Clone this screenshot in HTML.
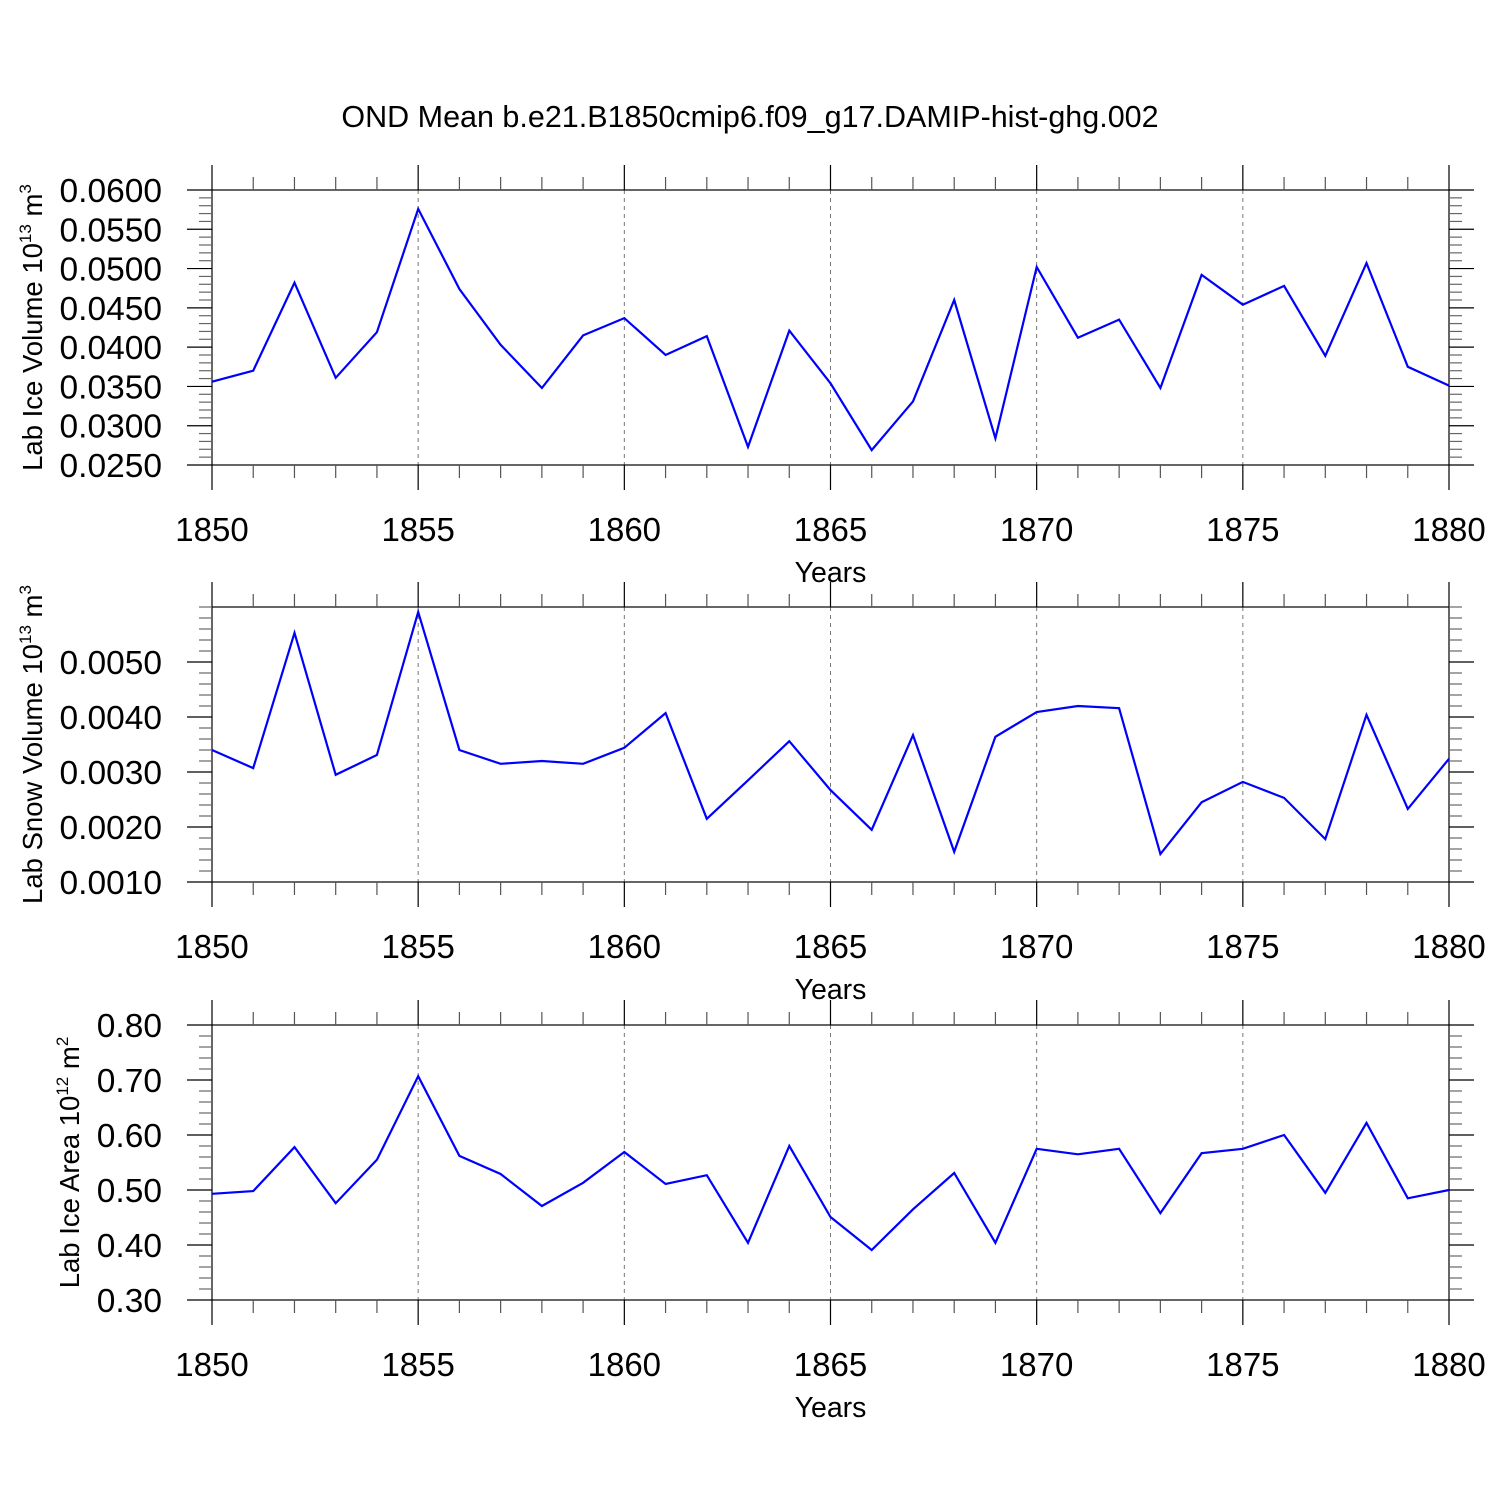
<!DOCTYPE html>
<html><head><meta charset="utf-8"><style>
html,body{margin:0;padding:0;background:#fff;}
svg{display:block;font-family:"Liberation Sans",sans-serif;}
</style></head><body>
<svg id="chart" width="1500" height="1500" viewBox="0 0 1500 1500">
<text x="750" y="127" text-anchor="middle" font-size="30.5">OND Mean b.e21.B1850cmip6.f09_g17.DAMIP-hist-ghg.002</text>
</svg>
<script>
const years = [1850,1851,1852,1853,1854,1855,1856,1857,1858,1859,1860,1861,1862,1863,1864,1865,1866,1867,1868,1869,1870,1871,1872,1873,1874,1875,1876,1877,1878,1879,1880];
const xTickLabels = [1850,1855,1860,1865,1870,1875,1880];
const iceVolume = [0.0356,0.0370,0.0482,0.0361,0.0419,0.0576,0.0474,0.0403,0.0348,0.0415,0.0437,0.0390,0.0414,0.0273,0.0421,0.0354,0.0269,0.0331,0.0460,0.0284,0.0502,0.0412,0.0435,0.0348,0.0492,0.0454,0.0478,0.0389,0.0507,0.0375,0.0351];
const snowVolume = [0.00340,0.00307,0.00553,0.00295,0.00331,0.00591,0.00340,0.00315,0.00320,0.00315,0.00344,0.00407,0.00215,0.00285,0.00356,0.00267,0.00195,0.00367,0.00155,0.00364,0.00409,0.00420,0.00416,0.00151,0.00245,0.00282,0.00253,0.00178,0.00404,0.00233,0.00324];
const iceArea = [0.493,0.498,0.578,0.476,0.555,0.707,0.562,0.529,0.471,0.513,0.569,0.511,0.527,0.404,0.580,0.451,0.391,0.465,0.531,0.404,0.575,0.565,0.575,0.458,0.567,0.575,0.600,0.495,0.622,0.485,0.500];
const iceVolTicks = ["0.0250","0.0300","0.0350","0.0400","0.0450","0.0500","0.0550","0.0600"];
const snowTicks = ["0.0010","0.0020","0.0030","0.0040","0.0050"];
const areaTicks = ["0.30","0.40","0.50","0.60","0.70","0.80"];

const NS="http://www.w3.org/2000/svg";
const svg=document.getElementById('chart');
function mk(tag,attrs,parent){const e=document.createElementNS(NS,tag);for(const k in attrs)e.setAttribute(k,attrs[k]);(parent||svg).appendChild(e);return e;}
const X0=212,X1=1449;
function xs(yr){return X0+(yr-1850)/30*(X1-X0);}

const panels=[
 {top:190,bot:465,min:0.025,max:0.060,minor:0.001,ticks:iceVolTicks,data:iceVolume,name:'ice-volume',title:'Lab Ice Volume 10',exp:'13',unit:' m',uexp:'3',tx:42},
 {top:607,bot:882,min:0.001,max:0.006,minor:0.0002,ticks:snowTicks,data:snowVolume,name:'snow-volume',title:'Lab Snow Volume 10',exp:'13',unit:' m',uexp:'3',tx:42},
 {top:1025,bot:1300,min:0.30,max:0.80,minor:0.02,ticks:areaTicks,data:iceArea,name:'ice-area',title:'Lab Ice Area 10',exp:'12',unit:' m',uexp:'2',tx:79}
];
panels.forEach(p=>{
 const g=mk('g',{});
 
 
 const ys=v=>p.bot-(v-p.min)/(p.max-p.min)*(p.bot-p.top);
 const cy=(p.top+p.bot)/2;
 xTickLabels.slice(1,-1).forEach(yr=>{
  const l=mk('line',{x1:xs(yr),x2:xs(yr),y1:p.top,y2:p.bot,stroke:'#777','stroke-width':1,'stroke-dasharray':'4,4'},g);
  
  
 });
 const r=mk('rect',{x:X0,y:p.top,width:X1-X0,height:p.bot-p.top,fill:'none',stroke:'#000','stroke-width':1.2},g);
 
 
 years.forEach(yr=>{
  const major=xTickLabels.includes(yr);
  const len=major?25:13;
  const x=xs(yr);
  mk('line',{x1:x,x2:x,y1:p.top,y2:p.top-len,stroke:major?'#000':'#555','stroke-width':1.2},g);
  mk('line',{x1:x,x2:x,y1:p.bot,y2:p.bot+len,stroke:major?'#000':'#555','stroke-width':1.2},g);
 });
 xTickLabels.forEach(yr=>{
  const t=mk('text',{x:xs(yr),y:p.bot+76,'text-anchor':'middle','font-size':33},g);
  t.textContent=yr;
  
  
 });
 const xt=mk('text',{x:(X0+X1)/2,y:p.bot+117,'text-anchor':'middle','font-size':28.5},g);
 xt.textContent='Years';
 
 
 const n=Math.round((p.max-p.min)/p.minor);
 const majorVals=p.ticks.map(Number);
 for(let i=0;i<=n;i++){
  const v=p.min+i*p.minor;
  const major=majorVals.some(m=>Math.abs(m-v)<p.minor/10);
  const len=major?25:13;
  const y=ys(v);
  mk('line',{x1:X0,x2:X0-len,y1:y,y2:y,stroke:major?'#000':'#666','stroke-width':1.2},g);
  mk('line',{x1:X1,x2:X1+len,y1:y,y2:y,stroke:major?'#000':'#666','stroke-width':1.2},g);
 }
 p.ticks.forEach(s=>{
  const t=mk('text',{x:X0-50,y:ys(Number(s))+12,'text-anchor':'end','font-size':33.5},g);
  t.textContent=s;
  
  
 });
 const yt=mk('text',{x:0,y:0,'text-anchor':'middle','font-size':27.5,transform:`translate(${p.tx},${cy}) rotate(-90)`},g);
 
 
 const a=mk('tspan',{},yt);a.textContent=p.title;
 const b=mk('tspan',{dy:-11,'font-size':17},yt);b.textContent=p.exp;
 const c=mk('tspan',{dy:11},yt);c.textContent=p.unit;
 const d=mk('tspan',{dy:-11,'font-size':17},yt);d.textContent=p.uexp;
 const pts=p.data.map((v,i)=>xs(years[i]).toFixed(1)+','+ys(v).toFixed(1)).join(' ');
 const pl=mk('polyline',{points:pts,fill:'none',stroke:'#0000ff','stroke-width':2.2,'stroke-linejoin':'miter'},g);
 
 
});
</script>
</body></html>
